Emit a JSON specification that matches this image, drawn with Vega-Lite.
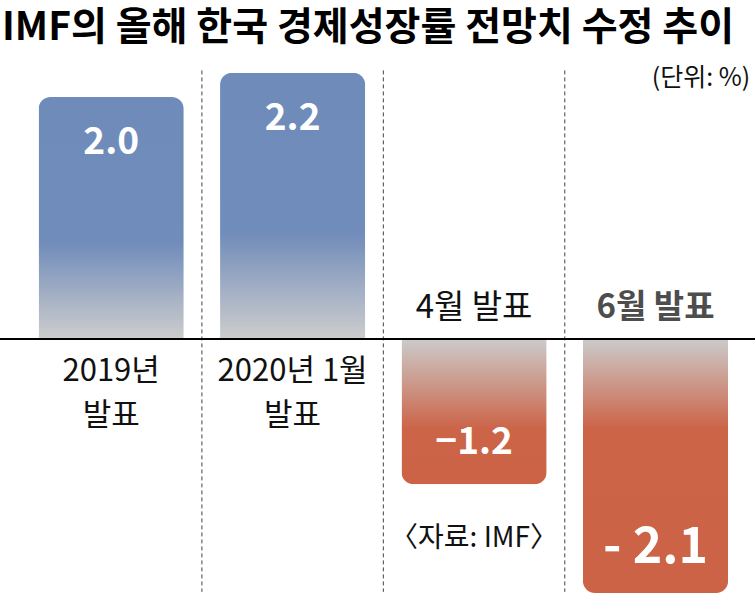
{
  "$schema": "https://vega.github.io/schema/vega-lite/v6.json",
  "width": 755,
  "height": 540,
  "autosize": {"type": "none"},
  "padding": {"top": 60, "left": 0, "right": 0, "bottom": 13},
  "title": {
    "text": "IMF의 올해 한국 경제성장률 전망치 수정 추이",
    "anchor": "start",
    "frame": "group",
    "font": "Noto Sans CJK KR",
    "fontSize": 39,
    "fontWeight": "bold",
    "color": "#000000",
    "offset": 12,
    "dx": 2
  },
  "config": {
    "view": {"stroke": null},
    "font": "Noto Sans CJK KR"
  },
  "data": {
    "values": [
      {"cat": "2019년 발표", "line1": "2019년", "line2": "발표", "value": 2.0, "label": "2.0"},
      {"cat": "2020년 1월 발표", "line1": "2020년 1월", "line2": "발표", "value": 2.2, "label": "2.2"},
      {"cat": "4월 발표", "line1": "4월 발표", "line2": "", "value": -1.2, "label": "−1.2"},
      {"cat": "6월 발표", "line1": "6월 발표", "line2": "", "value": -2.1, "label": "- 2.1"}
    ]
  },
  "layer": [
    {
      "transform": [{"filter": "datum.cat != '2019년 발표'"}],
      "mark": {"type": "rule", "color": "#444444", "strokeWidth": 1, "strokeDash": [4, 3]},
      "encoding": {
        "x": {"field": "cat", "type": "nominal", "bandPosition": 0, "axis": null,
          "scale": {"domain": ["2019년 발표", "2020년 1월 발표", "4월 발표", "6월 발표"], "paddingInner": 0, "paddingOuter": 0.0805, "align": 0.7}},
        "y": {"datum": 2.22, "type": "quantitative", "axis": null,
          "scale": {"domain": [-2.157, 2.306], "nice": false, "zero": false}},
        "y2": {"datum": -2.09}
      }
    },
    {
      "transform": [{"filter": "datum.value > 0"}],
      "mark": {
        "type": "bar", "width": {"band": 0.8},
        "cornerRadiusTopLeft": 12, "cornerRadiusTopRight": 12,
        "color": {"gradient": "linear", "x1": 0, "y1": 0, "x2": 0, "y2": 1,
          "stops": [
            {"offset": 0, "color": "#6e8bba"},
            {"offset": 0.6, "color": "#708cba"},
            {"offset": 1, "color": "#cdcdcd"}
          ]}
      },
      "encoding": {
        "x": {"field": "cat", "type": "nominal"},
        "y": {"field": "value", "type": "quantitative"}
      }
    },
    {
      "transform": [{"filter": "datum.cat == '4월 발표'"}],
      "mark": {
        "type": "bar", "width": {"band": 0.8},
        "cornerRadiusBottomLeft": 12, "cornerRadiusBottomRight": 12,
        "color": {"gradient": "linear", "x1": 0, "y1": 0, "x2": 0, "y2": 1,
          "stops": [
            {"offset": 0, "color": "#cbcbcb"},
            {"offset": 0.62, "color": "#cc6448"},
            {"offset": 1, "color": "#cc6347"}
          ]}
      },
      "encoding": {
        "x": {"field": "cat", "type": "nominal"},
        "y": {"field": "value", "type": "quantitative"}
      }
    },
    {
      "transform": [{"filter": "datum.cat == '6월 발표'"}],
      "mark": {
        "type": "bar", "width": {"band": 0.8},
        "cornerRadiusBottomLeft": 12, "cornerRadiusBottomRight": 12,
        "color": {"gradient": "linear", "x1": 0, "y1": 0, "x2": 0, "y2": 1,
          "stops": [
            {"offset": 0, "color": "#cbcbcb"},
            {"offset": 0.35, "color": "#cc6448"},
            {"offset": 1, "color": "#cc6347"}
          ]}
      },
      "encoding": {
        "x": {"field": "cat", "type": "nominal"},
        "y": {"field": "value", "type": "quantitative"}
      }
    },
    {
      "mark": {"type": "rule", "color": "#000000", "strokeWidth": 1.5},
      "encoding": {
        "y": {"datum": 0, "type": "quantitative"}
      }
    },
    {
      "transform": [{"filter": "datum.value > 0"}],
      "mark": {"type": "text", "color": "#ffffff", "fontSize": 37, "fontWeight": "bold", "baseline": "middle", "dy": 46},
      "encoding": {
        "x": {"field": "cat", "type": "nominal", "bandPosition": 0.5},
        "y": {"field": "value", "type": "quantitative"},
        "text": {"field": "label"}
      }
    },
    {
      "transform": [{"filter": "datum.cat == '4월 발표'"}],
      "mark": {"type": "text", "color": "#ffffff", "fontSize": 37, "fontWeight": "bold", "baseline": "middle", "dy": -41},
      "encoding": {
        "x": {"field": "cat", "type": "nominal", "bandPosition": 0.5},
        "y": {"field": "value", "type": "quantitative"},
        "text": {"field": "label"}
      }
    },
    {
      "transform": [{"filter": "datum.cat == '6월 발표'"}],
      "mark": {"type": "text", "color": "#ffffff", "fontSize": 50, "fontWeight": "bold", "baseline": "middle", "dy": -45},
      "encoding": {
        "x": {"field": "cat", "type": "nominal", "bandPosition": 0.5},
        "y": {"field": "value", "type": "quantitative"},
        "text": {"field": "label"}
      }
    },
    {
      "transform": [{"filter": "datum.value > 0"}],
      "mark": {"type": "text", "color": "#111111", "fontSize": 31, "baseline": "middle", "dy": 33},
      "encoding": {
        "x": {"field": "cat", "type": "nominal", "bandPosition": 0.5},
        "y": {"datum": 0, "type": "quantitative"},
        "text": {"field": "line1"}
      }
    },
    {
      "transform": [{"filter": "datum.value > 0"}],
      "mark": {"type": "text", "color": "#111111", "fontSize": 31, "baseline": "middle", "dy": 77},
      "encoding": {
        "x": {"field": "cat", "type": "nominal", "bandPosition": 0.5},
        "y": {"datum": 0, "type": "quantitative"},
        "text": {"field": "line2"}
      }
    },
    {
      "transform": [{"filter": "datum.cat == '4월 발표'"}],
      "mark": {"type": "text", "color": "#111111", "fontSize": 33, "baseline": "middle", "dy": -31},
      "encoding": {
        "x": {"field": "cat", "type": "nominal", "bandPosition": 0.5},
        "y": {"datum": 0, "type": "quantitative"},
        "text": {"field": "line1"}
      }
    },
    {
      "transform": [{"filter": "datum.cat == '6월 발표'"}],
      "mark": {"type": "text", "color": "#4d4d4d", "fontSize": 33, "fontWeight": "bold", "baseline": "middle", "dy": -31},
      "encoding": {
        "x": {"field": "cat", "type": "nominal", "bandPosition": 0.5},
        "y": {"datum": 0, "type": "quantitative"},
        "text": {"field": "line1"}
      }
    },
    {
      "data": {"values": [{"src": "〈자료: IMF〉"}]},
      "mark": {"type": "text", "color": "#111111", "fontSize": 28, "baseline": "middle"},
      "encoding": {
        "x": {"datum": "4월 발표", "type": "nominal", "bandPosition": 0.5},
        "y": {"datum": -1.65, "type": "quantitative"},
        "text": {"field": "src"}
      }
    },
    {
      "data": {"values": [{"unit": "(단위: %)"}]},
      "mark": {"type": "text", "color": "#111111", "fontSize": 25, "baseline": "middle", "align": "right", "dx": 4},
      "encoding": {
        "x": {"datum": "6월 발표", "type": "nominal", "bandPosition": 1},
        "y": {"datum": 2.157, "type": "quantitative"},
        "text": {"field": "unit"}
      }
    }
  ]
}
